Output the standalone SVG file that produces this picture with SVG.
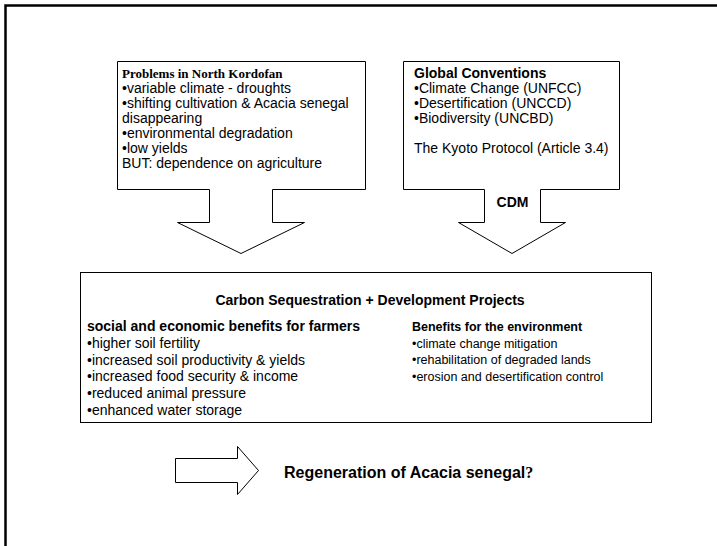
<svg xmlns="http://www.w3.org/2000/svg" width="717" height="546" viewBox="0 0 717 546">
<style>
.frame{fill:none;stroke:#000;stroke-width:2.5}
.shape{fill:#fff;stroke:#000;stroke-width:1}
.t{font-family:"Liberation Sans",Arial,sans-serif;font-size:14px;fill:#000}
.s{font-size:12.5px}
.b{font-weight:bold}
.serif{font-family:"Liberation Serif","Times New Roman",serif;font-weight:bold}
</style>
<rect width="717" height="546" fill="#fff"/>
<path class="frame" d="M5.5,546 V5.5 H717"/>
<g id="connectors">
</g>
<g id="problems">
<path class="shape" d="M117.5,61.5 H365.5 V189.5 H272.5 V222.5 H304.5 L241,253.5 L177.5,222.5 H209.5 V189.5 H117.5 Z"/>
<text class="t serif" x="122" y="78" style="font-size:13px">Problems in North Kordofan</text>
<text class="t" x="122" y="93">•variable climate - droughts</text>
<text class="t" x="122" y="108">•shifting cultivation &amp; Acacia senegal</text>
<text class="t" x="122" y="123">disappearing</text>
<text class="t" x="122" y="138">•environmental degradation</text>
<text class="t" x="122" y="153">•low yields</text>
<text class="t" x="122" y="168">BUT: dependence on agriculture</text>
</g>
<g id="conventions">
<path class="shape" d="M403.5,61.5 H619.5 V189.5 H540.5 V222.5 H565.5 L512,253.5 L458.5,222.5 H484.5 V189.5 H403.5 Z"/>
<text class="t b" x="414" y="78">Global Conventions</text>
<text class="t" x="414" y="93">•Climate Change (UNFCC)</text>
<text class="t" x="414" y="108">•Desertification (UNCCD)</text>
<text class="t" x="414" y="123">•Biodiversity (UNCBD)</text>
<text class="t" x="414" y="153">The Kyoto Protocol (Article 3.4)</text>
<text class="t b" x="512.5" y="207" text-anchor="middle">CDM</text>
</g>
<g id="projects">
<rect class="shape" x="80.5" y="272.5" width="571" height="150"/>
<text class="t b" x="370" y="305" text-anchor="middle">Carbon Sequestration + Development Projects</text>
<text class="t b" x="87" y="331">social and economic benefits for farmers</text>
<text class="t" x="87" y="348">•higher soil fertility</text>
<text class="t" x="87" y="364.5">•increased soil productivity &amp; yields</text>
<text class="t" x="87" y="381">•increased food security &amp; income</text>
<text class="t" x="87" y="398">•reduced animal pressure</text>
<text class="t" x="87" y="415">•enhanced water storage</text>
<text class="t s b" x="412" y="331">Benefits for the environment</text>
<text class="t s" x="412" y="347.5">•climate change mitigation</text>
<text class="t s" x="412" y="364">•rehabilitation of degraded lands</text>
<text class="t s" x="412" y="380.5">•erosion and desertification control</text>
</g>
<g id="regeneration">
<path class="shape" d="M175.5,458.5 H237.5 V446.5 L258.5,470.5 L237.5,494.5 V482.5 H175.5 Z"/>
<text class="t b" x="284" y="478" style="font-size:16px">Regeneration of Acacia senegal<tspan class="serif">?</tspan></text>
</g>
</svg>
